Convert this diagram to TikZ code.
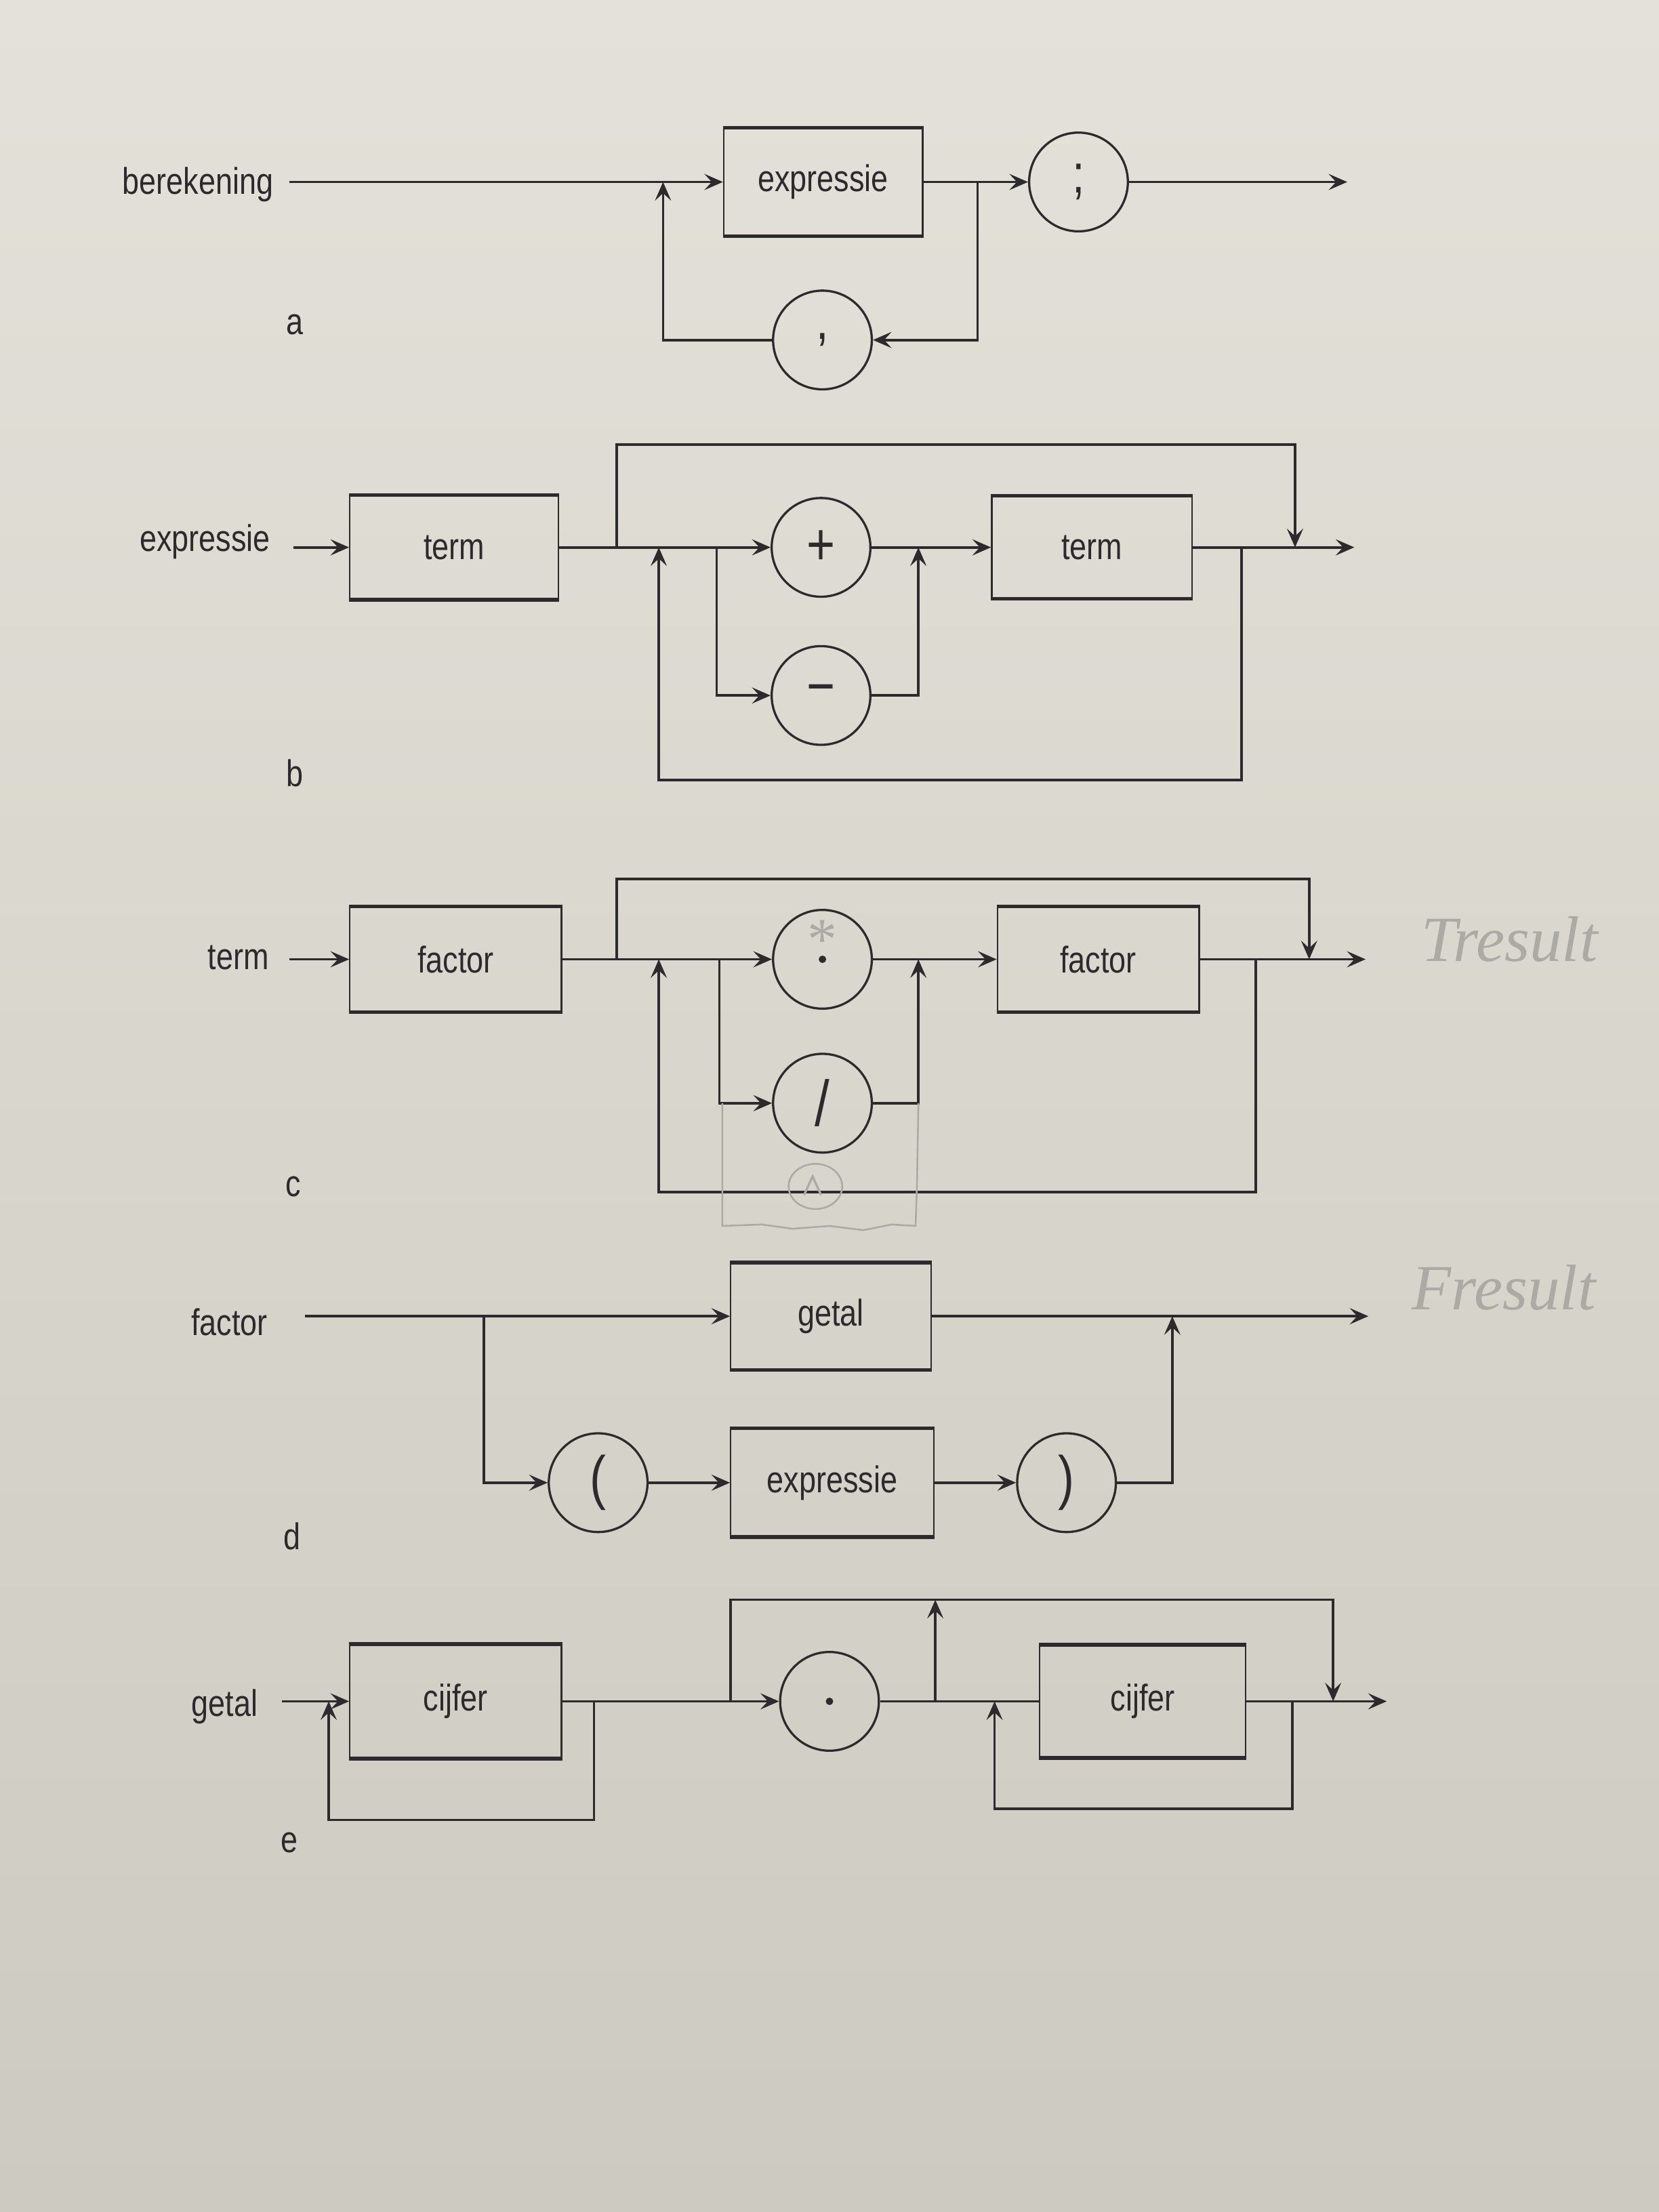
\documentclass[tikz,border=0pt]{standalone}
\usepackage{fontspec}
\setmainfont{Liberation Sans}[FakeStretch=0.82]
\newfontfamily\handfont{Liberation Serif}
\usetikzlibrary{arrows.meta}

\definecolor{ink}{RGB}{45,42,45}
\definecolor{pencil}{RGB}{172,170,164}
\definecolor{paperT}{RGB}{227,225,217}
\definecolor{paperB}{RGB}{205,202,193}

\tikzset{
  line/.style={draw=ink, line width=1pt},
  arr/.style={line, -{Stealth[length=7.5pt,width=6.5pt,inset=3pt]}},
  box/.style 2 args={draw=ink, line width=0.6pt, inner sep=0pt,
    minimum width=#1*0.02cm, minimum height=#2*0.02cm,
    font=\fontsize{15}{18}\selectfont, text=ink},
  tok/.style={circle, draw=ink, line width=0.9pt, minimum size=1.4cm,
    inner sep=0pt, text=ink, font=\fontsize{22}{24}\selectfont},
  big/.style={font=\fontsize{24}{26}\selectfont},
  lbl/.style={font=\fontsize{15}{18}\selectfont, text=ink, inner sep=0pt},
  hand/.style={font=\handfont\itshape\fontsize{26}{28}\selectfont, text=pencil, inner sep=0pt},
  graphite/.style={draw=pencil, line width=0.7pt}
}

\begin{document}
\begin{tikzpicture}[x=0.02cm,y=-0.02cm]
\shade[top color=paperT,bottom color=paperB] (0,0) rectangle (1176,1568);
\useasboundingbox (0,0) rectangle (1176,1568);

% ---------- a: berekening ----------
\node[lbl, anchor=east] (labA) at (194,131) {berekening};
\coordinate (a0) at (205,129);
\node[box={141}{76}] (exA) at (583.5,129) {expressie};
\node[tok] (semi) at (764.5,129) {;};
\node[tok] (comma) at (583,241) {,};
\coordinate (aL) at (470,129);
\coordinate (aR) at (693,129);
\coordinate (aE) at (955,129);
\draw[arr] (a0) -- (exA.west);
\draw[arr] (exA.east) -- (semi.west);
\draw[arr] (semi.east) -- (aE);
\draw[arr] (aR) |- (comma.east);
\draw[arr] (comma.west) -| (aL);
\node[lbl] (tagA) at (209,230) {a};

% ---------- b: expressie ----------
\node[lbl, anchor=east] (labB) at (192,384) {expressie};
\coordinate (b0) at (208,388);
\node[box={148}{73}] (tB1) at (322,388) {term};
\node[tok, big] (plus) at (582,388) {+};
\node[tok, big] (minus) at (582,493) {−};
\node[box={142}{72}] (tB2) at (774,388) {term};
\coordinate (bJ1) at (437,388);
\coordinate (bJ2) at (467,388);
\coordinate (bJ3) at (508,388);
\coordinate (bJ4) at (651,388);
\coordinate (bJ5) at (880,388);
\coordinate (bJ6) at (918,388);
\coordinate (bE) at (960,388);
\coordinate (bTop) at (0,315);
\coordinate (bBot) at (0,553);
\draw[arr] (b0) -- (tB1.west);
\draw[arr] (tB1.east) -- (plus.west);
\draw[arr] (plus.east) -- (tB2.west);
\draw[arr] (tB2.east) -- (bE);
\draw[arr] (bJ1) -- (bJ1 |- bTop) -- (bJ6 |- bTop) -- (bJ6);
\draw[arr] (bJ3) |- (minus.west);
\draw[arr] (minus.east) -| (bJ4);
\draw[arr] (bJ5) -- (bJ5 |- bBot) -- (bJ2 |- bBot) -- (bJ2);
\node[lbl] (tagB) at (209,548) {b};

% ---------- c: term ----------
\node[lbl, anchor=east] (labC) at (191,679) {term};
\coordinate (c0) at (205,680);
\node[box={150}{74}] (fC1) at (323,680) {factor};
\node[tok] (mul) at (583,680) {};
\fill[ink] (mul.center) circle[radius=1.5pt];
\node[tok, font=\fontsize{26}{28}\selectfont] (div) at (583,782) {/};
\node[box={143}{74}] (fC2) at (778.5,680) {factor};
\coordinate (cJ1) at (437,680);
\coordinate (cJ2) at (467,680);
\coordinate (cJ3) at (510,680);
\coordinate (cJ4) at (651,680);
\coordinate (cJ5) at (890,680);
\coordinate (cJ6) at (928,680);
\coordinate (cE) at (968,680);
\coordinate (cTop) at (0,623);
\coordinate (cBot) at (0,845);
\draw[arr] (c0) -- (fC1.west);
\draw[arr] (fC1.east) -- (mul.west);
\draw[arr] (mul.east) -- (fC2.west);
\draw[arr] (fC2.east) -- (cE);
\draw[arr] (cJ1) -- (cJ1 |- cTop) -- (cJ6 |- cTop) -- (cJ6);
\draw[arr] (cJ3) |- (div.west);
\draw[arr] (div.east) -| (cJ4);
\draw[arr] (cJ5) -- (cJ5 |- cBot) -- (cJ2 |- cBot) -- (cJ2);
\node[lbl] (tagC) at (208,841) {c};

% ---------- d: factor ----------
\node[lbl, anchor=east] (labD) at (190,937) {factor};
\coordinate (d0) at (216,933);
\node[box={142}{75}] (getal) at (589,933) {getal};
\node[tok, font=\fontsize{24}{26}\selectfont] (lpar) at (424,1051) {(};
\node[box={144}{76}] (exD) at (590,1051) {expressie};
\node[tok, font=\fontsize{24}{26}\selectfont] (rpar) at (756,1051) {)};
\coordinate (dJ1) at (343,933);
\coordinate (dJ2) at (831,933);
\coordinate (dE) at (970,933);
\draw[arr] (d0) -- (getal.west);
\draw[arr] (getal.east) -- (dE);
\draw[arr] (dJ1) |- (lpar.west);
\draw[arr] (lpar.east) -- (exD.west);
\draw[arr] (exD.east) -- (rpar.west);
\draw[arr] (rpar.east) -| (dJ2);
\node[lbl] (tagD) at (207,1089) {d};

% ---------- e: getal ----------
\node[lbl, anchor=east] (labE) at (183,1210) {getal};
\coordinate (e0) at (200,1206);
\node[box={150}{80}] (cf1) at (323,1206) {cijfer};
\node[tok] (point) at (588,1206) {};
\fill[ink] (point.center) circle[radius=1.5pt];
\node[box={146}{79}] (cf2) at (810,1206) {cijfer};
\coordinate (eJ0) at (233,1206);
\coordinate (eJ1) at (421,1206);
\coordinate (eJ2) at (518,1206);
\coordinate (eJ3) at (663,1206);
\coordinate (eJ5) at (705,1206);
\coordinate (eJ6) at (916,1206);
\coordinate (eJ4) at (945,1206);
\coordinate (eE) at (983,1206);
\coordinate (eTop) at (0,1134);
\coordinate (eBot1) at (0,1290);
\coordinate (eBot2) at (0,1282);
\draw[arr] (e0) -- (cf1.west);
\draw[arr] (cf1.east) -- (point.west);
\draw[line] (point.east) -- (cf2.west);
\draw[arr] (cf2.east) -- (eE);
\draw[arr] (eJ1) -- (eJ1 |- eBot1) -- (eJ0 |- eBot1) -- (eJ0);
\draw[arr] (eJ2) -- (eJ2 |- eTop) -- (eJ4 |- eTop) -- (eJ4);
\draw[arr] (eJ3) -- (eJ3 |- eTop);
\draw[arr] (eJ6) -- (eJ6 |- eBot2) -- (eJ5 |- eBot2) -- (eJ5);
\node[lbl] (tagE) at (205,1306) {e};

% heavier top and bottom rules of the boxes
\foreach \b in {exA,tB1,tB2,fC1,fC2,getal,exD,cf1,cf2}
  \draw[ink, line width=1.5pt] (\b.north west) -- (\b.north east)
                               (\b.south west) -- (\b.south east);

% ---------- pencil notes ----------
\node[hand] (tres) at (1070,666) {Tresult};
\node[hand] (fres) at (1066,913) {Fresult};
\node[hand, font=\handfont\fontsize{24}{24}\selectfont] (star) at (583,666) {*};
\draw[graphite] (512,782) -- (512,869) -- (540,868) -- (562,871) -- (588,869)
  -- (612,872) -- (632,868) -- (649,869) -- (650,840) -- (651,782);
\draw[graphite] (578,841) ellipse[x radius=19, y radius=16];
\draw[graphite, line width=0.9pt] (570,847) -- (576,834) -- (582,847);
\end{tikzpicture}
\end{document}
